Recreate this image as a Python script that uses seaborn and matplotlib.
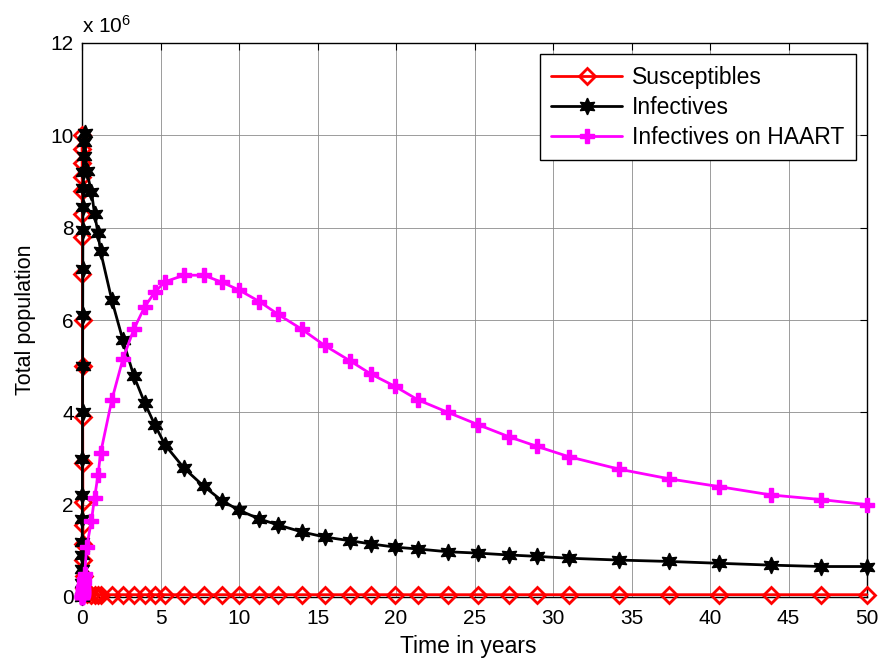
import numpy as np
import pandas as pd
import matplotlib
matplotlib.use("Agg")
import matplotlib.pyplot as plt
import seaborn as sns

# time points (years) of the solver output
t_early = [0.0, 0.004, 0.008, 0.012, 0.016, 0.02, 0.025, 0.03, 0.035, 0.04,
           0.045, 0.05, 0.055, 0.06, 0.07, 0.08, 0.1, 0.13, 0.17]
t_main = [0.3, 0.6, 0.8, 1.02, 1.18, 1.9, 2.6, 3.3, 4.0, 4.65, 5.3, 6.5, 7.75,
          8.9, 10.0, 11.3, 12.5, 14.0, 15.45, 17.05, 18.4, 19.95, 21.4, 23.3,
          25.25, 27.2, 29.0, 31.0, 34.2, 37.4, 40.6, 43.9, 47.1, 50.0]

# populations in millions
susc_early = [10.0, 9.7, 9.4, 9.1, 8.8, 8.3, 7.8, 7.0, 6.0, 5.0, 3.9, 2.9,
              2.05, 1.55, 1.15, 0.8, 0.45, 0.2, 0.1]
inf_early = [0.0, 0.3, 0.6, 0.9, 1.2, 1.7, 2.2, 3.0, 4.0, 5.0, 6.1, 7.1,
             7.95, 8.45, 8.85, 9.2, 9.55, 9.85, 10.05]
haart_early = [0.0, 0.0, 0.01, 0.01, 0.02, 0.02, 0.03, 0.04, 0.05, 0.06, 0.08,
               0.1, 0.12, 0.15, 0.18, 0.22, 0.3, 0.4, 0.5]

susc_main = [0.06, 0.05, 0.05, 0.05, 0.05, 0.05, 0.05, 0.05, 0.05, 0.05, 0.05,
             0.05, 0.05, 0.05, 0.05, 0.05, 0.05, 0.05, 0.05, 0.05, 0.05, 0.05,
             0.05, 0.05, 0.05, 0.05, 0.05, 0.05, 0.05, 0.05, 0.05, 0.05, 0.05, 0.05]
inf_main = [9.22, 8.78, 8.3, 7.88, 7.49, 6.43, 5.57, 4.79, 4.2, 3.72, 3.29,
            2.79, 2.40, 2.09, 1.88, 1.69, 1.56, 1.41, 1.30, 1.22, 1.15, 1.08,
            1.04, 0.98, 0.95, 0.91, 0.88, 0.84, 0.80, 0.77, 0.73, 0.69, 0.66, 0.66]
haart_main = [1.09, 1.65, 2.15, 2.64, 3.11, 4.27, 5.15, 5.80, 6.29, 6.61, 6.83,
              6.97, 6.97, 6.82, 6.65, 6.40, 6.12, 5.80, 5.45, 5.12, 4.83, 4.56,
              4.27, 4.0, 3.73, 3.47, 3.26, 3.04, 2.77, 2.56, 2.39, 2.21, 2.11, 2.0]

xticks = [0, 5, 10, 15, 20, 25, 30, 35, 40, 45, 50]
yticks = [0, 2, 4, 6, 8, 10, 12]

t = t_early + t_main
df = pd.DataFrame({
    "t": t,
    "Susceptibles": susc_early + susc_main,
    "Infectives": inf_early + inf_main,
    "Infectives on HAART": haart_early + haart_main,
})

sns.set_style("white")
plt.rcParams["font.family"] = ["Liberation Sans", "DejaVu Sans"]
plt.rcParams["mathtext.fontset"] = "custom"
plt.rcParams["mathtext.rm"] = "Liberation Sans"
plt.rcParams["mathtext.it"] = "Liberation Sans"
plt.rcParams["text.color"] = "black"
plt.rcParams["axes.labelcolor"] = "black"
plt.rcParams["xtick.color"] = "black"
plt.rcParams["ytick.color"] = "black"

fig = plt.figure(figsize=(8.81, 6.59), dpi=100)
ax = fig.add_axes([82 / 881, 62 / 659, 785 / 881, 554 / 659])

common = dict(estimator=None, sort=False, linewidth=2.0, clip_on=False, ax=ax)
sns.lineplot(data=df, x="t", y="Susceptibles", color="red", marker="D",
             markersize=8, markerfacecolor="none", markeredgecolor="red",
             markeredgewidth=2.0, label="Susceptibles", zorder=3, **common)
sns.lineplot(data=df, x="t", y="Infectives", color="black", marker=(6, 1, 0),
             markersize=12, markerfacecolor="black", markeredgecolor="black",
             markeredgewidth=1.0, label="Infectives", zorder=4, **common)
sns.lineplot(data=df, x="t", y="Infectives on HAART", color="magenta",
             marker="P", markersize=10, markerfacecolor="magenta",
             markeredgecolor="magenta", markeredgewidth=1.0,
             label="Infectives on HAART", zorder=5, **common)

ax.set_xlim(0, 50)
ax.set_ylim(0, 12)
ax.set_xticks(xticks)
ax.set_yticks(yticks)
ax.tick_params(direction="in", length=5, width=0.8, top=True, right=True,
               labelsize=15, colors="black")
ax.tick_params(axis="x", pad=9)
ax.tick_params(axis="y", pad=6)
ax.grid(True, color="#8c8c8c", linewidth=0.6)
for s in ax.spines.values():
    s.set_color("black")
    s.set_linewidth(1.0)

ax.set_xlabel("Time in years", fontsize=16.5, color="black")
ax.set_ylabel("Total population", fontsize=15.5, color="black")
ax.xaxis.set_label_coords(0.492, -0.068)
ax.yaxis.set_label_coords(-0.058, 0.5)
ax.text(0.0, 1.012, r"x 10$^{6}$", transform=ax.transAxes, fontsize=15,
        ha="left", va="bottom", color="black")

leg = ax.legend(loc="upper right", fontsize=16.5, frameon=True, fancybox=False,
                edgecolor="black", framealpha=1, handlelength=3.1,
                handletextpad=0.42, borderaxespad=0.5, labelspacing=0.3,
                borderpad=0.5)
leg.get_frame().set_linewidth(1.0)
for txt in leg.get_texts():
    txt.set_color("black")

fig.savefig("out.png", dpi=100)
